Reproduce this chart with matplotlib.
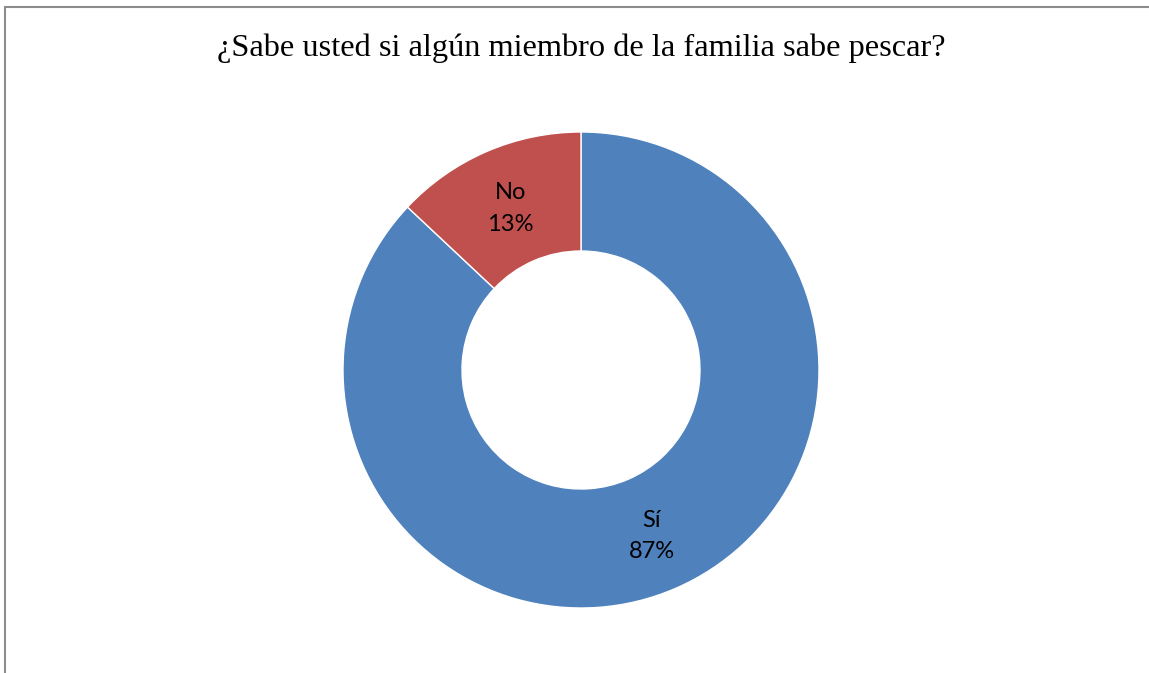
import matplotlib.pyplot as plt
from matplotlib.patches import Rectangle
import numpy as np

labels = ["Sí", "No"]
values = [87, 13]
colors = ["#4F81BD", "#C0504D"]
title = "¿Sabe usted si algún miembro de la familia sabe pescar?"

W, H = 1149, 673
fig = plt.figure(figsize=(W / 100, H / 100), dpi=100)

# chart border (top/left visible, rest runs off the page)
fig.patches.append(Rectangle((5 / W, -0.1), 1.2, (H - 7) / H + 0.1,
                             transform=fig.transFigure, fill=False,
                             edgecolor="#8c8c8c", linewidth=1.5))

cx, cy, r = 581, H - 370, 238
ax = fig.add_axes([(cx - r) / W, (cy - r) / H, 2 * r / W, 2 * r / H])
wedges, _ = ax.pie(values, colors=colors, startangle=90, counterclock=False,
                   radius=1, wedgeprops=dict(width=0.5, edgecolor="white", linewidth=1))
ax.set_xlim(-1, 1)
ax.set_ylim(-1, 1)
ax.set_aspect("equal")
ax.axis("off")

total = sum(values)
start = 90.0
for lab, v in zip(labels, values):
    ang = np.deg2rad(start - v / total * 180)
    start -= v / total * 360
    ax.text(0.75 * np.cos(ang), 0.75 * np.sin(ang) - 0.01, f"{lab}\n{round(v / total * 100)}%",
            ha="center", va="center", fontsize=17, family="Lato", linespacing=1.6)

fig.text(cx / W, 1 - 48 / H, title, ha="center", va="center",
         fontsize=23.3, family="Liberation Serif")

fig.savefig("out.png", dpi=100)
